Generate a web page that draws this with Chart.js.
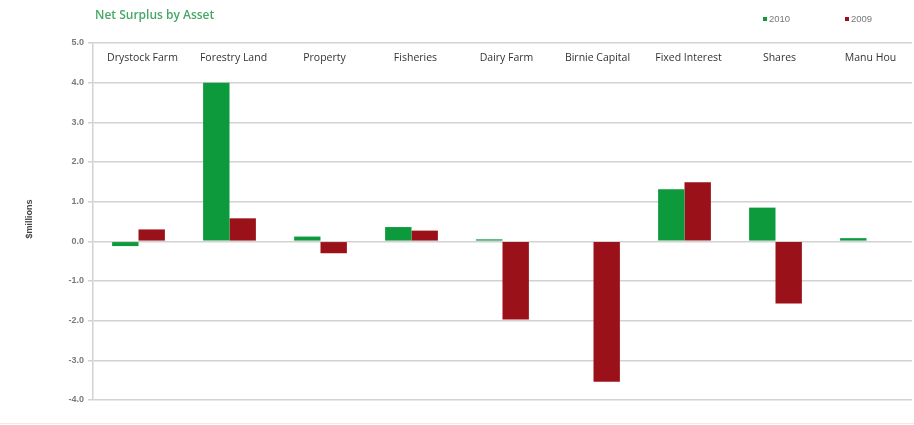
<!DOCTYPE html>
<html>
<head>
<meta charset="utf-8">
<script src="https://cdn.jsdelivr.net/npm/chart.js@4.4.1/dist/chart.umd.min.js"></script>
<style>
  html, body { margin: 0; padding: 0; background: #fff; }
  #wrap { width: 914px; height: 425px; }
</style>
</head>
<body>
<div id="wrap"><canvas id="surplusChart" width="914" height="425"></canvas></div>
<script>
// Net Surplus by Asset ($ millions)
const assets = ['Drystock Farm', 'Forestry Land', 'Property', 'Fisheries', 'Dairy Farm',
                'Birnie Capital', 'Fixed Interest', 'Shares', 'Manu Hou'];
const surplus2010 = [-0.12, 4.0, 0.12, 0.36, 0.05, 0, 1.31, 0.85, 0.08];
const surplus2009 = [0.3, 0.58, -0.3, 0.27, -1.97, -3.54, 1.49, -1.57, 0];
const yTicks = [5, 4, 3, 2, 1, 0, -1, -2, -3, -4];

const colors = {
    green: '#0c9a3c',
    red: '#9b1119',
    grid: '#d2d2d2',
    tick: '#7a7a7a',
    title: '#47a865'
};

// draws title, legend, in-plot category labels, axis title
const extrasPlugin = {
    id: 'extras',
    afterDraw(chart) {
        const ctx = chart.ctx;
        const area = chart.chartArea;
        const x = chart.scales.x;
        ctx.save();

        // title
        ctx.fillStyle = colors.title;
        ctx.font = '600 12px "Open Sans"';
        ctx.textAlign = 'left';
        ctx.textBaseline = 'middle';
        ctx.fillText('Net Surplus by Asset', 95, 16);

        // legend
        ctx.font = '9.5px "Liberation Sans"';
        chart.data.datasets.forEach(function(ds, i) {
            const lx = i === 0 ? 763 : 845;
            ctx.fillStyle = ds.backgroundColor;
            ctx.fillRect(lx, 17, 4, 4);
            ctx.fillStyle = '#777';
            ctx.fillText(ds.label, lx + 6, 19.5);
        });

        // category labels inside the plot
        ctx.fillStyle = '#333';
        ctx.font = '10.5px "Open Sans"';
        ctx.textAlign = 'center';
        assets.forEach(function(name, i) {
            ctx.fillText(name, x.getPixelForValue(i) + 4, area.top + 15);
        });

        // y axis title
        ctx.translate(30, 219);
        ctx.rotate(-Math.PI / 2);
        ctx.fillStyle = '#444';
        ctx.font = 'bold 9px "Liberation Sans"';
        ctx.fillText('$millions', 0, 0);
        ctx.restore();

        // faint bottom rule
        ctx.save();
        ctx.strokeStyle = '#ececec';
        ctx.lineWidth = 1;
        ctx.beginPath();
        ctx.moveTo(0, 423.5);
        ctx.lineTo(914, 423.5);
        ctx.stroke();
        ctx.restore();
    }
};

new Chart(document.getElementById('surplusChart'), {
    type: 'bar',
    data: {
        labels: assets,
        datasets: [{
            label: '2010',
            data: surplus2010,
            backgroundColor: colors.green,
            borderWidth: 0
        }, {
            label: '2009',
            data: surplus2009,
            backgroundColor: colors.red,
            borderWidth: 0
        }]
    },
    options: {
        responsive: false,
        animation: false,
        layout: { padding: { top: 43, bottom: 25, right: 2, left: 0 } },
        datasets: {
            bar: { categoryPercentage: 0.58, barPercentage: 1.0 }
        },
        plugins: {
            legend: { display: false },
            title: { display: false },
            tooltip: { enabled: false }
        },
        scales: {
            x: { display: false },
            y: {
                min: -4,
                max: 5,
                afterBuildTicks(scale) {
                    scale.ticks = yTicks.map(function(v) { return { value: v }; });
                },
                afterFit(scale) { scale.width = 93; },
                grid: {
                    color: colors.grid,
                    lineWidth: 1.5,
                    tickLength: 5,
                    tickColor: colors.grid
                },
                border: { color: colors.grid, width: 1.5 },
                ticks: {
                    color: colors.tick,
                    padding: 4,
                    font: { family: '"Liberation Sans"', size: 9, weight: 'bold' },
                    callback: function(v) { return Number(v).toFixed(1); }
                }
            }
        }
    },
    plugins: [extrasPlugin]
});
</script>
</body>
</html>
